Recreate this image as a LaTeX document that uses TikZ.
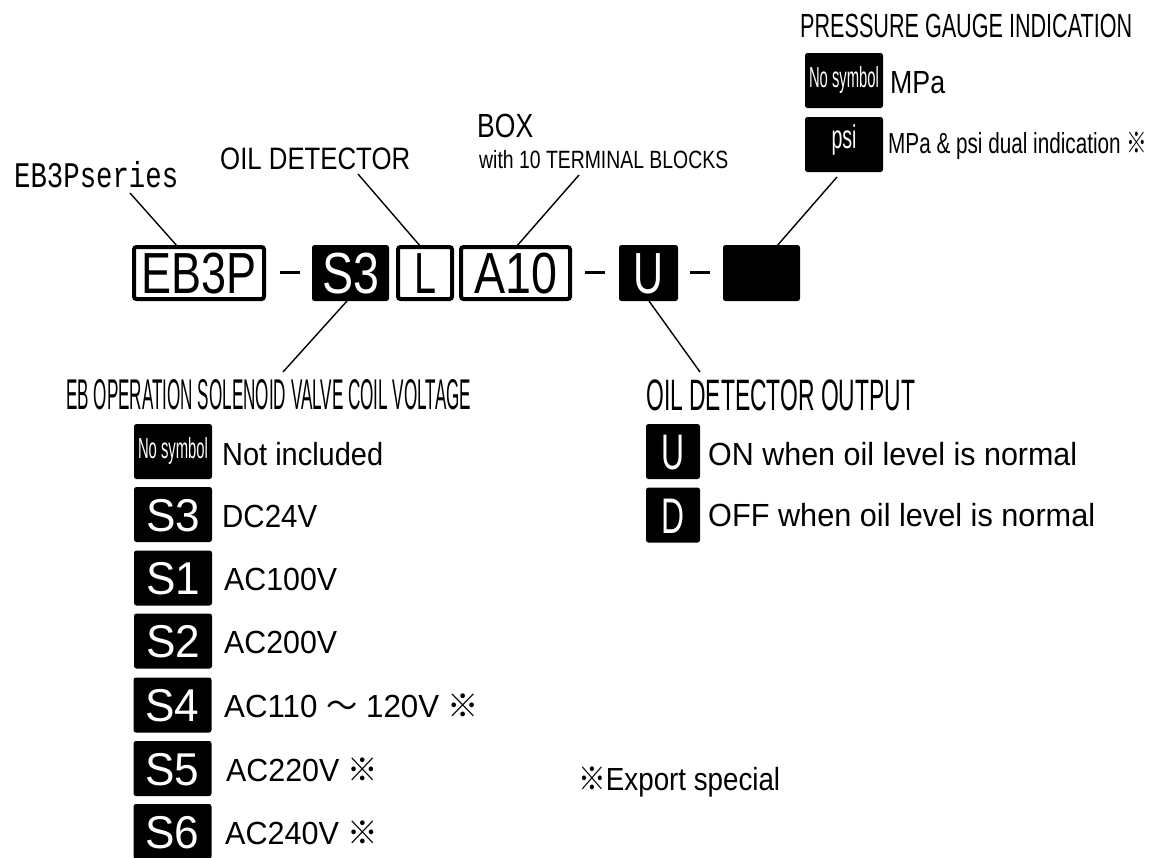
\documentclass[tikz,border=0pt]{standalone}
\usepackage{fontspec}
\usepackage{graphicx}
\setmainfont{Liberation Sans}
\newfontfamily\monof{Liberation Mono}
\newfontfamily\cjk{Noto Sans CJK JP}
\newcommand\fw[2]{\resizebox{#1}{\height}{#2}}
\newcommand\fs[1]{\fontsize{#1}{#1}\selectfont}
\newcommand\kome{{\cjk ※}}
\begin{document}
\begin{tikzpicture}[x=1pt,y=-1pt,
  txt/.style={inner sep=0pt, anchor=base west},
  wbox/.style={draw=black, fill=white, line width=4pt, rounded corners=2.5pt,
     minimum height=52pt, inner sep=0pt, text height=41.5pt, text depth=0pt, font=\fs{58}},
  bbox/.style={fill=black, text=white, rounded corners=2.5pt,
     minimum height=56pt, inner sep=0pt, text height=41.5pt, text depth=0pt, font=\fs{58}},
  lbox/.style={fill=black, text=white, rounded corners=2.5pt,
     minimum height=55pt, minimum width=78pt, inner sep=0pt, text height=33pt, text depth=0pt, font=\fs{46}},
  leader/.style={line width=1.4pt},
  dashln/.style={line width=3pt},
  innerln/.style={line width=1.1pt}
]
\useasboundingbox (0,0) rectangle (1155,857);

% ---- main code row ----
\node[wbox, minimum width=130pt] (eb) at (199,273) {\fw{115pt}{EB3P}};
\node[bbox, minimum width=77pt] (s3) at (350.5,273) {\fw{57pt}{S3}};
\node[wbox, minimum width=54pt] (ll) at (425,273) {\fw{22pt}{L}};
\node[wbox, minimum width=109pt] (a10) at (515.5,273) {\fw{83pt}{A10}};
\node[bbox, minimum width=59pt] (uu) at (648.5,273) {\fw{30pt}{U}};
\node[bbox, minimum width=77pt] (bl) at (761.5,273) {};

\foreach \n in {eb,ll,a10}{
  \draw[innerln] ([shift={(3.6,3.6)}]\n.north west) rectangle ([shift={(-3.6,-3.6)}]\n.south east);
}

\coordinate (d1a) at (280,272); \coordinate (d1b) at (300,272);
\coordinate (d2a) at (585,272); \coordinate (d2b) at (605,272);
\coordinate (d3a) at (690,272); \coordinate (d3b) at (710,272);
\draw[dashln] (d1a) -- (d1b);
\draw[dashln] (d2a) -- (d2b);
\draw[dashln] (d3a) -- (d3b);

% ---- upper labels ----
\node[txt, font=\monof\fs{36}] (ser) at (14,187) {\fw{164pt}{EB3Pseries}};
\node[txt, font=\fs{31}] (oil) at (220,169) {\fw{190pt}{OIL DETECTOR}};
\node[txt, font=\fs{33.5}] (boxl) at (477,137) {\fw{56pt}{BOX}};
\node[txt, font=\fs{25}] (term) at (479,168) {\fw{249pt}{with 10 TERMINAL BLOCKS}};
\node[txt, font=\fs{33.5}] (press) at (800,37) {\fw{332pt}{PRESSURE GAUGE INDICATION}};

\node[fill=black, text=white, rounded corners=2.5pt, minimum width=78pt, minimum height=55pt,
      inner sep=0pt, text height=19pt, text depth=6pt, font=\fs{29}] (pns) at (844,80.5) {\fw{70pt}{No symbol}};
\node[fill=black, text=white, rounded corners=2.5pt, minimum width=78pt, minimum height=55pt,
      inner sep=0pt, text height=15pt, text depth=7pt, font=\fs{33}] (psi) at (844,144.5) {\fw{25pt}{psi}};
\node[txt, font=\fs{32}] (mpa) at (890,93) {\fw{55pt}{MPa}};
\node[txt, font=\fs{29}] (dual) at (888,153) {\fw{259pt}{MPa \& psi dual indication \kome}};

% ---- leaders (upper) ----
\coordinate (l1a) at (130,193); \coordinate (l1b) at (178,247);
\coordinate (l2a) at (358,174); \coordinate (l2b) at (421,247);
\coordinate (l3a) at (579,175); \coordinate (l3b) at (516,247);
\coordinate (l4a) at (837,177); \coordinate (l4b) at (776,247);
\draw[leader] (l1a) -- (l1b);
\draw[leader] (l2a) -- (l2b);
\draw[leader] (l3a) -- (l3b);
\draw[leader] (l4a) -- (l4b);

% ---- lower headings ----
\node[txt, font=\fs{43}] (coil) at (66,409) {\fw{405pt}{EB OPERATION SOLENOID VALVE COIL VOLTAGE}};
\node[txt, font=\fs{44}] (odo) at (646,410) {\fw{269pt}{OIL DETECTOR OUTPUT}};

\coordinate (l5a) at (347,301); \coordinate (l5b) at (283,372);
\coordinate (l6a) at (649,301); \coordinate (l6b) at (700,372);
\draw[leader] (l5a) -- (l5b);
\draw[leader] (l6a) -- (l6b);

% ---- coil voltage legend ----
\node[fill=black, text=white, rounded corners=2.5pt, minimum width=78pt, minimum height=55pt,
      inner sep=0pt, text height=19pt, text depth=6pt, font=\fs{29}] (cns) at (173,451.5) {\fw{70pt}{No symbol}};
\node[lbox] (cs3) at (173,514.5) {\fw{54pt}{S3}};
\node[lbox] (cs1) at (173,578) {\fw{54pt}{S1}};
\node[lbox] (cs2) at (173,641) {\fw{54pt}{S2}};
\node[lbox] (cs4) at (172.5,705) {\fw{54pt}{S4}};
\node[lbox] (cs5) at (172.5,768.5) {\fw{54pt}{S5}};
\node[lbox] (cs6) at (172.5,831.5) {\fw{54pt}{S6}};

\node[txt, font=\fs{32}] (tns) at (222,465) {\fw{161pt}{Not included}};
\node[txt, font=\fs{32}] (ts3) at (222,527) {\fw{95pt}{DC24V}};
\node[txt, font=\fs{32}] (ts1) at (224,590.5) {\fw{113pt}{AC100V}};
\node[txt, font=\fs{32}] (ts2) at (224,653.5) {\fw{113pt}{AC200V}};
\node[txt, font=\fs{32}] (ts4) at (224,717.5) {\fw{255pt}{AC110 {\cjk ～} 120V \kome}};
\node[txt, font=\fs{32}] (ts5) at (226,781) {\fw{152pt}{AC220V \kome}};
\node[txt, font=\fs{32}] (ts6) at (225,844) {\fw{153pt}{AC240V \kome}};

% ---- oil detector output legend ----
\node[lbox, minimum width=54pt, text height=36pt, font=\fs{50}] (ou) at (673,451.5) {\fw{23pt}{U}};
\node[lbox, minimum width=54pt, text height=36pt, font=\fs{50}] (od) at (673,515) {\fw{23pt}{D}};
\node[txt, font=\fs{32}] (ton) at (708,465) {\fw{369pt}{ON when oil level is normal}};
\node[txt, font=\fs{32}] (toff) at (708,526) {\fw{387pt}{OFF when oil level is normal}};

% ---- note ----
\node[txt, font=\fs{32}] (note) at (578,790) {\fw{202pt}{\kome Export special}};
\end{tikzpicture}
\end{document}
